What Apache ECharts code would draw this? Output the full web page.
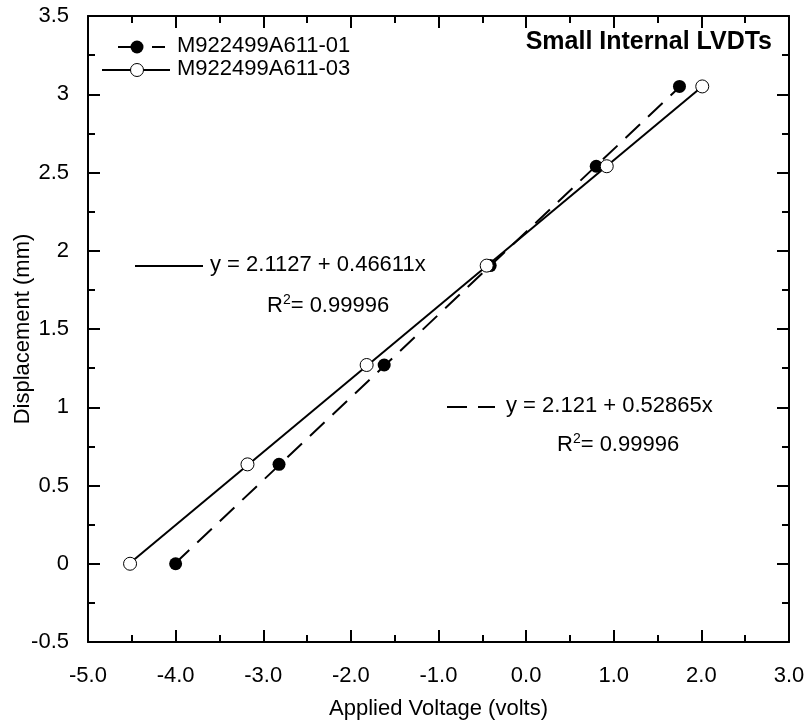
<!DOCTYPE html>
<html>
<head>
<meta charset="utf-8">
<script src="https://cdn.jsdelivr.net/npm/echarts@6/dist/echarts.min.js"></script>
<style>html,body{margin:0;padding:0;background:#fff}#c{width:809px;height:727px}</style>
</head>
<body>
<div id="c"></div>
<script>
// Data
var voltage01 = [-4.00, -2.82, -1.62, -0.41, 0.80, 1.75];
var disp01    = [0.000, 0.635, 1.270, 1.905, 2.540, 3.050];
var voltage03 = [-4.52, -3.18, -1.82, -0.45, 0.92, 2.01];
var disp03    = [0.000, 0.635, 1.270, 1.905, 2.540, 3.050];
// regression line end points (as drawn)
var fit01X = [-4.01, 1.76];
var fit01Y = [0.000, 3.051];
var fit03X = [-4.53, 2.01];
var fit03Y = [0.000, 3.049];
var seriesNames = ['M922499A611-01', 'M922499A611-03'];
var eq01 = 'y = 2.121 + 0.52865x';
var eq03 = 'y = 2.1127 + 0.46611x';
var r2Text = '= 0.99996';
var titleText = 'Small Internal LVDTs';
var xName = 'Applied Voltage (volts)';
var yName = 'Displacement (mm)';

function zip(a, b) { return a.map(function (v, i) { return [v, b[i]]; }); }

var FONT = "'Liberation Sans', Arial, sans-serif";
var FS = 22;
var black = '#000';

function axisCommon() {
  return {
    axisLine: { show: true, onZero: false, lineStyle: { color: black, width: 2 } },
    axisTick: { show: true, inside: true, length: 12, lineStyle: { color: black, width: 2 } },
    minorTick: { show: true, splitNumber: 2, length: 7, lineStyle: { color: black, width: 2 } },
    splitLine: { show: false },
    minorSplitLine: { show: false }
  };
}

var chart = echarts.init(document.getElementById('c'), null, { renderer: 'canvas' });

var xBottom = Object.assign(axisCommon(), {
  type: 'value', position: 'bottom', min: -5, max: 3, interval: 1,
  name: xName, nameLocation: 'middle', nameGap: 56, nameMoveOverlap: false,
  nameTextStyle: { fontFamily: FONT, fontSize: FS, color: black },
  axisLabel: { show: true, margin: 23, fontFamily: FONT, fontSize: FS, color: black,
    formatter: function (v) { return v.toFixed(1); } }
});
var xTop = Object.assign(axisCommon(), {
  type: 'value', position: 'top', min: -5, max: 3, interval: 1,
  axisLabel: { show: false }
});
var yLeft = Object.assign(axisCommon(), {
  type: 'value', position: 'left', min: -0.5, max: 3.5, interval: 0.5,
  name: yName, nameLocation: 'middle', nameGap: 54, nameRotate: 90, nameMoveOverlap: false,
  nameTextStyle: { fontFamily: FONT, fontSize: FS, color: black },
  axisLabel: { show: true, margin: 19, fontFamily: FONT, fontSize: FS, color: black }
});
var yRight = Object.assign(axisCommon(), {
  type: 'value', position: 'right', min: -0.5, max: 3.5, interval: 0.5,
  axisLabel: { show: false }
});

var supRich = {
  b: { fontFamily: FONT, fontSize: FS, color: black, lineHeight: 26 },
  s: { fontFamily: FONT, fontSize: 14, color: black, lineHeight: 26, verticalAlign: 'top', padding: [0, 0, 10, 0] }
};

var option = {
  animation: false,
  backgroundColor: '#fff',
  grid: { left: 88, right: 20, top: 16, bottom: 85, containLabel: false, outerBoundsMode: 'none' },
  xAxis: [xBottom, xTop],
  yAxis: [yLeft, yRight],
  series: [
    { type: 'line', name: 'fit01', data: zip(fit01X, fit01Y), showSymbol: false, symbol: 'none',
      lineStyle: { color: black, width: 2, type: [20, 11] }, z: 2, silent: true },
    { type: 'line', name: 'fit03', data: zip(fit03X, fit03Y), showSymbol: false, symbol: 'none',
      lineStyle: { color: black, width: 2, type: 'solid' }, z: 2, silent: true },
    { type: 'scatter', name: seriesNames[0], data: zip(voltage01, disp01), symbol: 'circle', symbolSize: 13,
      itemStyle: { color: black, borderWidth: 0, opacity: 1 }, z: 5 },
    { type: 'scatter', name: seriesNames[1], data: zip(voltage03, disp03), symbol: 'circle', symbolSize: 13,
      itemStyle: { color: '#fff', borderColor: black, borderWidth: 1, opacity: 1 }, z: 5 }
  ],
  graphic: [
    // title
    { type: 'text', right: 37, top: 30, style: { text: titleText, fontFamily: FONT, fontSize: 25, fontWeight: 'bold', fill: black } },
    // legend row 1 (dashed + filled)
    { type: 'line', shape: { x1: 118, y1: 47, x2: 133, y2: 47 }, style: { stroke: black, lineWidth: 2 } },
    { type: 'line', shape: { x1: 152, y1: 47, x2: 165, y2: 47 }, style: { stroke: black, lineWidth: 2 } },
    { type: 'circle', shape: { cx: 137, cy: 47, r: 6.5 }, style: { fill: black } },
    { type: 'text', left: 177, top: 35, style: { text: seriesNames[0], fontFamily: FONT, fontSize: FS, fill: black } },
    // legend row 2 (solid + open)
    { type: 'line', shape: { x1: 102, y1: 70, x2: 170, y2: 70 }, style: { stroke: black, lineWidth: 2 } },
    { type: 'circle', shape: { cx: 137, cy: 70, r: 6.5 }, style: { fill: '#fff', stroke: black, lineWidth: 1 } },
    { type: 'text', left: 177, top: 58, style: { text: seriesNames[1], fontFamily: FONT, fontSize: FS, fill: black } },
    // equation for series 03 (solid)
    { type: 'line', shape: { x1: 135, y1: 266, x2: 203, y2: 266 }, style: { stroke: black, lineWidth: 2 } },
    { type: 'text', left: 210, top: 254, style: { text: eq03, fontFamily: FONT, fontSize: FS, fill: black } },
    { type: 'text', left: 267, top: 293, style: { text: '{b|R}{s|2}{b|' + r2Text + '}', rich: supRich } },
    // equation for series 01 (dashed)
    { type: 'line', shape: { x1: 447, y1: 407, x2: 467, y2: 407 }, style: { stroke: black, lineWidth: 2 } },
    { type: 'line', shape: { x1: 478, y1: 407, x2: 495, y2: 407 }, style: { stroke: black, lineWidth: 2 } },
    { type: 'text', left: 506, top: 395, style: { text: eq01, fontFamily: FONT, fontSize: FS, fill: black } },
    { type: 'text', left: 557, top: 432, style: { text: '{b|R}{s|2}{b|' + r2Text + '}', rich: supRich } }
  ]
};
chart.setOption(option);
</script>
</body>
</html>
